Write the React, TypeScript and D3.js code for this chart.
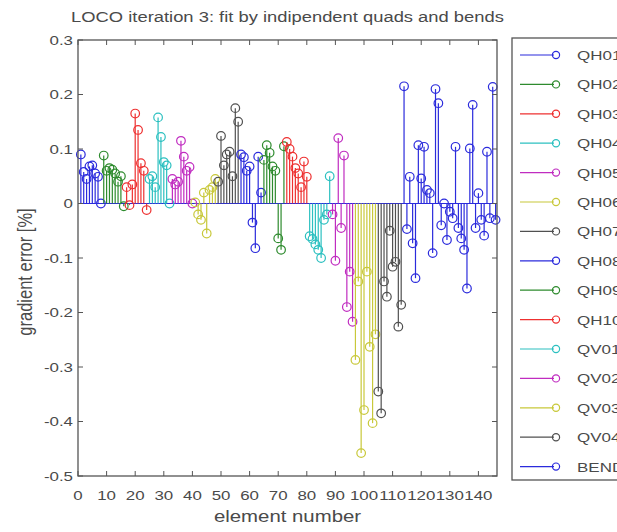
import React from "react";
import * as d3 from "d3";

// ---- data ----
const seriesNames = ["QH01","QH02","QH03","QH04","QH05","QH06","QH07","QH08","QH09","QH10","QV01","QV02","QV03","QV04","BEND"];
const seriesColors = ["#2b2bdc","#2e8b2e","#ee3030","#2cc0c0","#c02cc0","#c8c83a","#505050","#2b2bdc","#2e8b2e","#ee3030","#2cc0c0","#c02cc0","#c8c83a","#505050","#2b2bdc"];
const seriesStart = [1, 9, 17, 25, 33, 41, 49, 57, 65, 73, 81, 89, 97, 105, 114];

const QH01 = [0.09, 0.058, 0.045, 0.068, 0.07, 0.055, 0.049, 0.0];
const QH02 = [0.088, 0.06, 0.065, 0.062, 0.055, 0.04, 0.05, -0.005];
const QH03 = [0.03, -0.003, 0.035, 0.165, 0.135, 0.074, 0.06, -0.012];
const QH04 = [0.045, 0.05, 0.03, 0.158, 0.122, 0.076, 0.07, 0.0];
const QH05 = [0.045, 0.035, 0.04, 0.115, 0.086, 0.06, 0.067, 0.0];
const QH06 = [0.002, -0.02, -0.03, 0.02, -0.055, 0.025, 0.03, 0.045];
const QH07 = [0.04, 0.124, 0.07, 0.09, 0.095, 0.05, 0.175, 0.15];
const QH08 = [0.09, 0.085, 0.06, 0.068, -0.035, -0.082, 0.086, 0.02];
const QH09 = [0.08, 0.107, 0.093, 0.068, 0.06, -0.064, -0.085, 0.105];
const QH10 = [0.113, 0.1, 0.086, 0.065, 0.055, 0.03, 0.077, 0.049];
const QV01 = [-0.06, -0.065, -0.075, -0.085, -0.1, -0.03, -0.02, 0.05];
const QV02 = [-0.02, -0.105, 0.12, -0.045, 0.088, -0.19, -0.125, -0.217];
const QV03 = [-0.287, -0.143, -0.458, -0.379, -0.125, -0.263, -0.403, -0.24];
const QV04 = [-0.345, -0.385, -0.143, -0.171, -0.05, -0.116, -0.107, -0.226, -0.186];
const BEND = [0.215, -0.047, 0.049, -0.073, -0.137, 0.107, 0.046, 0.104, 0.025, 0.019, -0.091, 0.21, 0.184, -0.04, 0.0, -0.067, -0.015, -0.027, 0.104, -0.045, -0.064, -0.085, -0.156, 0.101, 0.181, -0.045, 0.019, -0.03, -0.059, 0.095, -0.027, 0.214, -0.03];

const seriesValues = [QH01, QH02, QH03, QH04, QH05, QH06, QH07, QH08, QH09, QH10, QV01, QV02, QV03, QV04, BEND];

const xTicks = [0, 10, 20, 30, 40, 50, 60, 70, 80, 90, 100, 110, 120, 130, 140];
const yTicks = [0.3, 0.2, 0.1, 0, -0.1, -0.2, -0.3, -0.4, -0.5];
const titleText = "LOCO iteration 3: fit by indipendent quads and bends";
const xLabel = "element number";
const yLabel = "gradient error [%]";

const SX = 1.25; // horizontal stretch of the text glyphs

function fmtY(t: number) {
  if (t === 0) return "0";
  return (t < 0 ? "-" : "") + Math.abs(t).toFixed(1);
}

export default function App() {
  const W = 617, H = 532;
  const left = 78, right = 497, top = 40, bottom = 476;
  const x = d3.scaleLinear().domain([0, 146.5]).range([left, right]);
  const y = d3.scaleLinear().domain([-0.5, 0.3]).range([bottom, top]);
  const font = "'Liberation Sans', Arial, sans-serif";
  const textCol = "#4a4a4a";
  const axisCol = "#555";

  const legX = 512, legY = 38, legH = 442, legStep = 29.4, legFirst = 55;

  const T = (px: number, py: number, s: string, size: number, anchor: string, key?: string) => (
    <text key={key} transform={`translate(${px},${py}) scale(${SX},1)`} textAnchor={anchor} fontSize={size} fill={textCol}>{s}</text>
  );

  return (
    <svg width={W} height={H} style={{ position: "absolute", left: 0, top: 0, background: "#fff" }} fontFamily={font}>
      <rect x={0} y={0} width={W} height={H} fill="#fff" />
      {/* baseline */}
      <line x1={left} x2={right} y1={y(0)} y2={y(0)} stroke={seriesColors[0]} strokeWidth={1.2} />
      {/* stems */}
      {seriesValues.map((vals, si) => (
        <g key={si} stroke={seriesColors[si]} fill="none" strokeWidth={1.2}>
          {vals.map((v, i) => {
            const xi = x(seriesStart[si] + i);
            return (
              <g key={i}>
                <line x1={xi} x2={xi} y1={y(0)} y2={y(v)} />
                <circle cx={xi} cy={y(v)} r={4.3} />
              </g>
            );
          })}
        </g>
      ))}
      {/* axes box */}
      <rect x={left} y={top} width={right - left} height={bottom - top} fill="none" stroke={axisCol} strokeWidth={1.3} />
      {xTicks.map((t) => (
        <g key={"xt" + t}>
          <line x1={x(t)} x2={x(t)} y1={bottom} y2={bottom - 5} stroke={axisCol} />
          <line x1={x(t)} x2={x(t)} y1={top} y2={top + 5} stroke={axisCol} />
          {T(x(t), 500, String(t), 13.5, "middle")}
        </g>
      ))}
      {yTicks.map((t) => (
        <g key={"yt" + t}>
          <line x1={left} x2={left + 5} y1={y(t)} y2={y(t)} stroke={axisCol} />
          <line x1={right} x2={right - 5} y1={y(t)} y2={y(t)} stroke={axisCol} />
          {T(73, y(t) + 4.8, fmtY(t), 13.5, "end")}
        </g>
      ))}
      {T((left + right) / 2, 22, titleText, 14.7, "middle")}
      {T((left + right) / 2, 522, xLabel, 16.3, "middle")}
      <text transform={`translate(32,272) scale(${SX},1) rotate(-90)`} textAnchor="middle" fontSize={16.5} fill={textCol}>{yLabel}</text>
      {/* legend */}
      <rect x={legX} y={legY} width={W - legX + 10} height={legH} fill="#fff" stroke={axisCol} strokeWidth={1.3} />
      {seriesNames.map((n, i) => {
        const ly = legFirst + i * legStep;
        return (
          <g key={n}>
            <line x1={520} x2={554} y1={ly} y2={ly} stroke={seriesColors[i]} strokeWidth={1.2} />
            <circle cx={556} cy={ly} r={3.6} fill="none" stroke={seriesColors[i]} strokeWidth={1.2} />
            {T(577, ly + 5, n, 13.6, "start")}
          </g>
        );
      })}
    </svg>
  );
}
